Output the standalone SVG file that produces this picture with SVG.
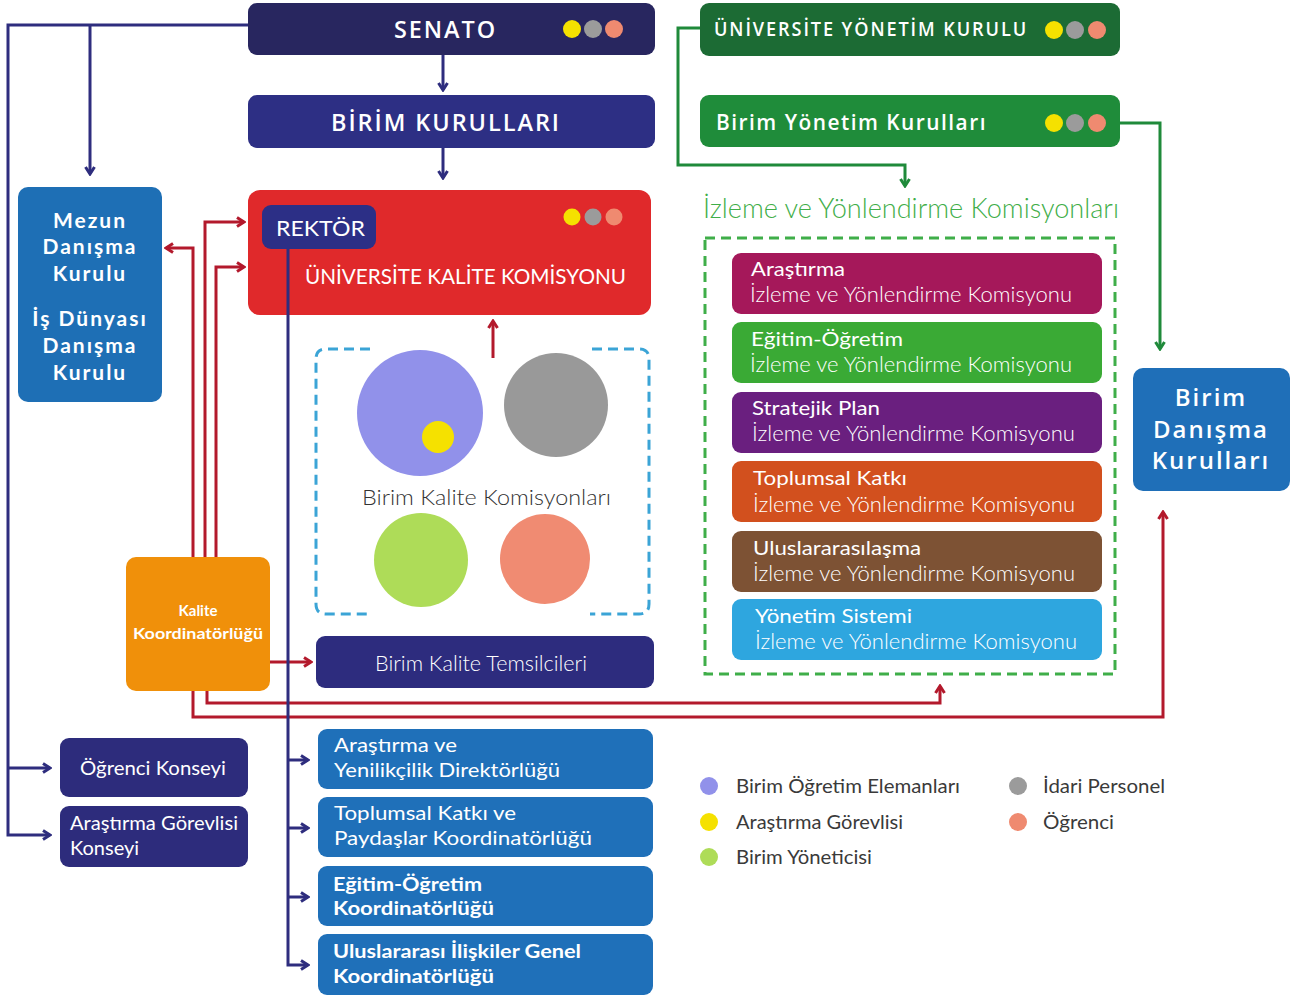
<svg xmlns="http://www.w3.org/2000/svg" width="1303" height="999" viewBox="0 0 1303 999">
<defs>
<marker id="ab" viewBox="0 0 12 12" refX="10" refY="6" markerWidth="12" markerHeight="12" markerUnits="userSpaceOnUse" orient="auto"><path d="M3,1.5 L10,6 L3,10.5" fill="none" stroke="#2e2d7e" stroke-width="3"/></marker>
<marker id="ar" viewBox="0 0 12 12" refX="10" refY="6" markerWidth="12" markerHeight="12" markerUnits="userSpaceOnUse" orient="auto"><path d="M3,1.5 L10,6 L3,10.5" fill="none" stroke="#b3192c" stroke-width="3"/></marker>
<marker id="ag" viewBox="0 0 12 12" refX="10" refY="6" markerWidth="12" markerHeight="12" markerUnits="userSpaceOnUse" orient="auto"><path d="M3,1.5 L10,6 L3,10.5" fill="none" stroke="#1f8a3a" stroke-width="3"/></marker>
</defs>
<style>
text{font-family:"Open Sans","Liberation Sans",sans-serif;fill:#fff}
.cap{font-weight:600;letter-spacing:2px}
.lt{font-family:Lato,"Open Sans","Liberation Sans",sans-serif;font-weight:300}
.md{font-family:Lato,"Open Sans","Liberation Sans",sans-serif;font-weight:400}
.bd{font-family:Lato,"Open Sans","Liberation Sans",sans-serif;font-weight:700}
.sb{font-weight:600}
.mz{font-family:Lato,"Open Sans","Liberation Sans",sans-serif;font-weight:700;font-size:21px;letter-spacing:2px}
.leg{font-family:Lato,"Open Sans","Liberation Sans",sans-serif;font-weight:400;fill:#3a3a3a;font-size:19px}
.lb{stroke:#2e2d7e;stroke-width:3;fill:none}
.lr{stroke:#b3192c;stroke-width:3;fill:none}
.lg{stroke:#1f8a3a;stroke-width:3;fill:none}
.y{fill:#f5e100}.g{fill:#9b9b9b}.s{fill:#ef8a70}
</style>
<rect width="1303" height="999" fill="#fff"/>

<g id="senato">
<rect x="248" y="3" width="407" height="52" rx="9" fill="#28265f"/>
<text x="394" y="38" font-size="24" class="cap" textLength="103" lengthAdjust="spacingAndGlyphs">SENATO</text>
<circle cx="572" cy="29" r="9" class="y"/><circle cx="593" cy="29" r="9" class="g"/><circle cx="614" cy="29" r="9" class="s"/>
</g>
<g id="birim-kurullari">
<rect x="248" y="95" width="407" height="53" rx="9" fill="#2d2f84"/>
<text x="331" y="131" font-size="24" class="cap" textLength="230" lengthAdjust="spacingAndGlyphs">BİRİM KURULLARI</text>
</g>
<g id="uyk">
<rect x="700" y="3" width="420" height="53" rx="9" fill="#1c6b34"/>
<text x="714" y="36" font-size="19" class="cap" textLength="314" lengthAdjust="spacingAndGlyphs">ÜNİVERSİTE YÖNETİM KURULU</text>
<circle cx="1054" cy="30" r="9" class="y"/><circle cx="1075" cy="30" r="9" class="g"/><circle cx="1097" cy="30" r="9" class="s"/>
</g>
<g id="byk">
<rect x="700" y="95" width="420" height="52" rx="9" fill="#1f8c3a"/>
<text x="716" y="130" font-size="21" class="sb" style="letter-spacing:1.5px" textLength="271" lengthAdjust="spacingAndGlyphs">Birim Yönetim Kurulları</text>
<circle cx="1054" cy="123" r="9" class="y"/><circle cx="1075" cy="123" r="9" class="g"/><circle cx="1097" cy="123" r="9" class="s"/>
</g>
<g id="izleme">
<text x="703" y="218" font-size="27" class="lt" style="fill:#3fae49" textLength="416" lengthAdjust="spacingAndGlyphs">İzleme ve Yönlendirme Komisyonları</text>
<rect x="705" y="238" width="410" height="436" fill="none" stroke="#3fae49" stroke-width="3" stroke-dasharray="10 6"/>
</g>
<g id="k-arastirma">
<rect x="732" y="253" width="370" height="61" rx="9" fill="#a5185a"/>
<text x="751" y="276" font-size="20" class="md" textLength="94" lengthAdjust="spacingAndGlyphs">Araştırma</text>
<text x="750" y="302" font-size="21" class="lt" textLength="322" lengthAdjust="spacingAndGlyphs">İzleme ve Yönlendirme Komisyonu</text>
</g>
<g id="k-egitim">
<rect x="732" y="322" width="370" height="61" rx="9" fill="#3aaa35"/>
<text x="751" y="346" font-size="20" class="md" textLength="152" lengthAdjust="spacingAndGlyphs">Eğitim-Öğretim</text>
<text x="750" y="372" font-size="21" class="lt" textLength="322" lengthAdjust="spacingAndGlyphs">İzleme ve Yönlendirme Komisyonu</text>
</g>
<g id="k-stratejik">
<rect x="732" y="392" width="370" height="61" rx="9" fill="#6a1f7f"/>
<text x="752" y="415" font-size="20" class="md" textLength="128" lengthAdjust="spacingAndGlyphs">Stratejik Plan</text>
<text x="752" y="441" font-size="21" class="lt" textLength="323" lengthAdjust="spacingAndGlyphs">İzleme ve Yönlendirme Komisyonu</text>
</g>
<g id="k-toplumsal">
<rect x="732" y="461" width="370" height="61" rx="9" fill="#d2501e"/>
<text x="753" y="485" font-size="20" class="md" textLength="154" lengthAdjust="spacingAndGlyphs">Toplumsal Katkı</text>
<text x="753" y="512" font-size="21" class="lt" textLength="322" lengthAdjust="spacingAndGlyphs">İzleme ve Yönlendirme Komisyonu</text>
</g>
<g id="k-ulus">
<rect x="732" y="531" width="370" height="61" rx="9" fill="#7d5234"/>
<text x="753" y="555" font-size="20" class="md" textLength="168" lengthAdjust="spacingAndGlyphs">Uluslararasılaşma</text>
<text x="753" y="581" font-size="21" class="lt" textLength="322" lengthAdjust="spacingAndGlyphs">İzleme ve Yönlendirme Komisyonu</text>
</g>
<g id="k-yonetim">
<rect x="732" y="599" width="370" height="61" rx="9" fill="#2ea6df"/>
<text x="755" y="623" font-size="20" class="md" textLength="157" lengthAdjust="spacingAndGlyphs">Yönetim Sistemi</text>
<text x="755" y="649" font-size="21" class="lt" textLength="322" lengthAdjust="spacingAndGlyphs">İzleme ve Yönlendirme Komisyonu</text>
</g>
<g id="birim-danisma">
<rect x="1133" y="368" width="157" height="123" rx="10" fill="#1f6fb8"/>
<text x="1211" y="406" font-size="24" class="sb" text-anchor="middle" style="letter-spacing:2px">Birim</text>
<text x="1211" y="438" font-size="24" class="sb" text-anchor="middle" style="letter-spacing:2px">Danışma</text>
<text x="1211" y="469" font-size="24" class="sb" text-anchor="middle" style="letter-spacing:2px">Kurulları</text>
</g>
<g id="mezun">
<rect x="18" y="187" width="144" height="215" rx="10" fill="#1e6fb5"/>
<text x="90" y="228" class="mz" text-anchor="middle">Mezun</text>
<text x="90" y="254" class="mz" text-anchor="middle">Danışma</text>
<text x="90" y="281" class="mz" text-anchor="middle">Kurulu</text>
<text x="90" y="326" class="mz" text-anchor="middle">İş Dünyası</text>
<text x="90" y="353" class="mz" text-anchor="middle">Danışma</text>
<text x="90" y="380" class="mz" text-anchor="middle">Kurulu</text>
</g>
<g id="uk-komisyonu">
<rect x="248" y="190" width="403" height="125" rx="12" fill="#e0292b"/>
<circle cx="572" cy="217" r="8.5" class="y"/><circle cx="593" cy="217" r="8.5" class="g"/><circle cx="614" cy="217" r="8.5" class="s"/>
<text x="305" y="284" font-size="22" class="md" textLength="321" lengthAdjust="spacingAndGlyphs">ÜNİVERSİTE KALİTE KOMİSYONU</text>
</g>
<g id="rektor">
<rect x="262" y="205" width="114" height="44" rx="9" fill="#2c2f86"/>
<text x="276" y="236" font-size="22" class="md" textLength="89" lengthAdjust="spacingAndGlyphs">REKTÖR</text>
</g>
<g id="birim-kalite-komisyonlari">
<path d="M370,349 H326 Q316,349 316,359 V604 Q316,614 326,614 H372" fill="none" stroke="#3ba4d6" stroke-width="3" stroke-dasharray="10 6"/>
<path d="M592,349 H639 Q649,349 649,359 V604 Q649,614 639,614 H590" fill="none" stroke="#3ba4d6" stroke-width="3" stroke-dasharray="10 6"/>
<circle cx="420" cy="413" r="63" fill="#9191ea"/>
<circle cx="438" cy="437" r="16" class="y"/>
<circle cx="556" cy="405" r="52" fill="#999"/>
<circle cx="421" cy="560" r="47" fill="#aedc58"/>
<circle cx="545" cy="559" r="45" fill="#f08b72"/>
<text x="362" y="505" font-size="22" class="lt" style="fill:#333" textLength="249" lengthAdjust="spacingAndGlyphs">Birim Kalite Komisyonları</text>
</g>
<g id="kalite-koordinatorlugu">
<rect x="126" y="557" width="144" height="134" rx="10" fill="#f0900a"/>
<text x="198" y="616" font-size="15" class="bd" text-anchor="middle">Kalite</text>
<text x="198" y="639" font-size="15" class="bd" text-anchor="middle" textLength="130" lengthAdjust="spacingAndGlyphs">Koordinatörlüğü</text>
</g>
<g id="birim-kalite-temsilcileri">
<rect x="316" y="636" width="338" height="52" rx="9" fill="#2d2c7e"/>
<text x="375" y="671" font-size="21" class="lt" textLength="212" lengthAdjust="spacingAndGlyphs">Birim Kalite Temsilcileri</text>
</g>
<g id="ogrenci-konseyi">
<rect x="60" y="738" width="188" height="59" rx="9" fill="#2d2c7c"/>
<text x="80" y="775" font-size="20" class="md" textLength="146" lengthAdjust="spacingAndGlyphs">Öğrenci Konseyi</text>
</g>
<g id="arastirma-gorevlisi-konseyi">
<rect x="60" y="806" width="188" height="61" rx="9" fill="#2d2c7c"/>
<text x="70" y="830" font-size="20" class="md" textLength="168" lengthAdjust="spacingAndGlyphs">Araştırma Görevlisi</text>
<text x="70" y="855" font-size="20" class="md">Konseyi</text>
</g>
<g id="arastirma-yenilikcilik">
<rect x="318" y="729" width="335" height="60" rx="9" fill="#1f70b9"/>
<text x="334" y="752" font-size="20" class="md" textLength="123" lengthAdjust="spacingAndGlyphs">Araştırma ve</text>
<text x="334" y="777" font-size="20" class="md" textLength="226" lengthAdjust="spacingAndGlyphs">Yenilikçilik Direktörlüğü</text>
</g>
<g id="toplumsal-katki">
<rect x="318" y="797" width="335" height="60" rx="9" fill="#1f70b9"/>
<text x="334" y="820" font-size="20" class="md" textLength="182" lengthAdjust="spacingAndGlyphs">Toplumsal Katkı ve</text>
<text x="334" y="845" font-size="20" class="md" textLength="258" lengthAdjust="spacingAndGlyphs">Paydaşlar Koordinatörlüğü</text>
</g>
<g id="egitim-ogretim">
<rect x="318" y="866" width="335" height="60" rx="9" fill="#1f70b9"/>
<text x="333" y="891" font-size="19" class="bd" textLength="149" lengthAdjust="spacingAndGlyphs">Eğitim-Öğretim</text>
<text x="333" y="915" font-size="19" class="bd" textLength="161" lengthAdjust="spacingAndGlyphs">Koordinatörlüğü</text>
</g>
<g id="uluslararasi-iliskiler">
<rect x="318" y="934" width="335" height="61" rx="9" fill="#1f70b9"/>
<text x="333" y="958" font-size="19" class="bd" textLength="248" lengthAdjust="spacingAndGlyphs">Uluslararası İlişkiler Genel</text>
<text x="333" y="983" font-size="19" class="bd" textLength="161" lengthAdjust="spacingAndGlyphs">Koordinatörlüğü</text>
</g>
<g id="legend">
<circle cx="709" cy="786" r="9" fill="#9191ea"/>
<text x="736" y="793" class="leg" textLength="224" lengthAdjust="spacingAndGlyphs">Birim Öğretim Elemanları</text>
<circle cx="709" cy="822" r="9" fill="#f5e100"/>
<text x="736" y="829" class="leg" textLength="167" lengthAdjust="spacingAndGlyphs">Araştırma Görevlisi</text>
<circle cx="709" cy="857" r="9" fill="#aedc58"/>
<text x="736" y="864" class="leg" textLength="136" lengthAdjust="spacingAndGlyphs">Birim Yöneticisi</text>
<circle cx="1018" cy="786" r="9" fill="#9b9b9b"/>
<text x="1043" y="793" class="leg" textLength="122" lengthAdjust="spacingAndGlyphs">İdari Personel</text>
<circle cx="1018" cy="822" r="9" fill="#ef8a70"/>
<text x="1043" y="829" class="leg" textLength="71" lengthAdjust="spacingAndGlyphs">Öğrenci</text>
</g>

<g id="connectors">
<path class="lr" d="M193,557 V248 H166" marker-end="url(#ar)"/>
<path class="lr" d="M205,557 V222 H244" marker-end="url(#ar)"/>
<path class="lr" d="M216,557 V267 H244" marker-end="url(#ar)"/>
<path class="lr" d="M270,662 H311" marker-end="url(#ar)"/>
<path class="lr" d="M207,691 V703 H940 V686" marker-end="url(#ar)"/>
<path class="lr" d="M193,691 V717 H1163 V512" marker-end="url(#ar)"/>
<path class="lr" d="M493,358 V321" marker-end="url(#ar)"/>
<path class="lb" d="M248,25 H8 V835 H50" marker-end="url(#ab)"/>
<path class="lb" d="M8,768 H50" marker-end="url(#ab)"/>
<path class="lb" d="M90,25 V174" marker-end="url(#ab)"/>
<path class="lb" d="M443,55 V90" marker-end="url(#ab)"/>
<path class="lb" d="M443,148 V178" marker-end="url(#ab)"/>
<path class="lb" d="M288,249 V965 H308" marker-end="url(#ab)"/>
<path class="lb" d="M288,760 H308" marker-end="url(#ab)"/>
<path class="lb" d="M288,828 H308" marker-end="url(#ab)"/>
<path class="lb" d="M288,897 H308" marker-end="url(#ab)"/>
<path class="lg" d="M700,28 H678 V165 H905 V186" marker-end="url(#ag)"/>
<path class="lg" d="M1120,123 H1160 V349" marker-end="url(#ag)"/>
</g>
</svg>
